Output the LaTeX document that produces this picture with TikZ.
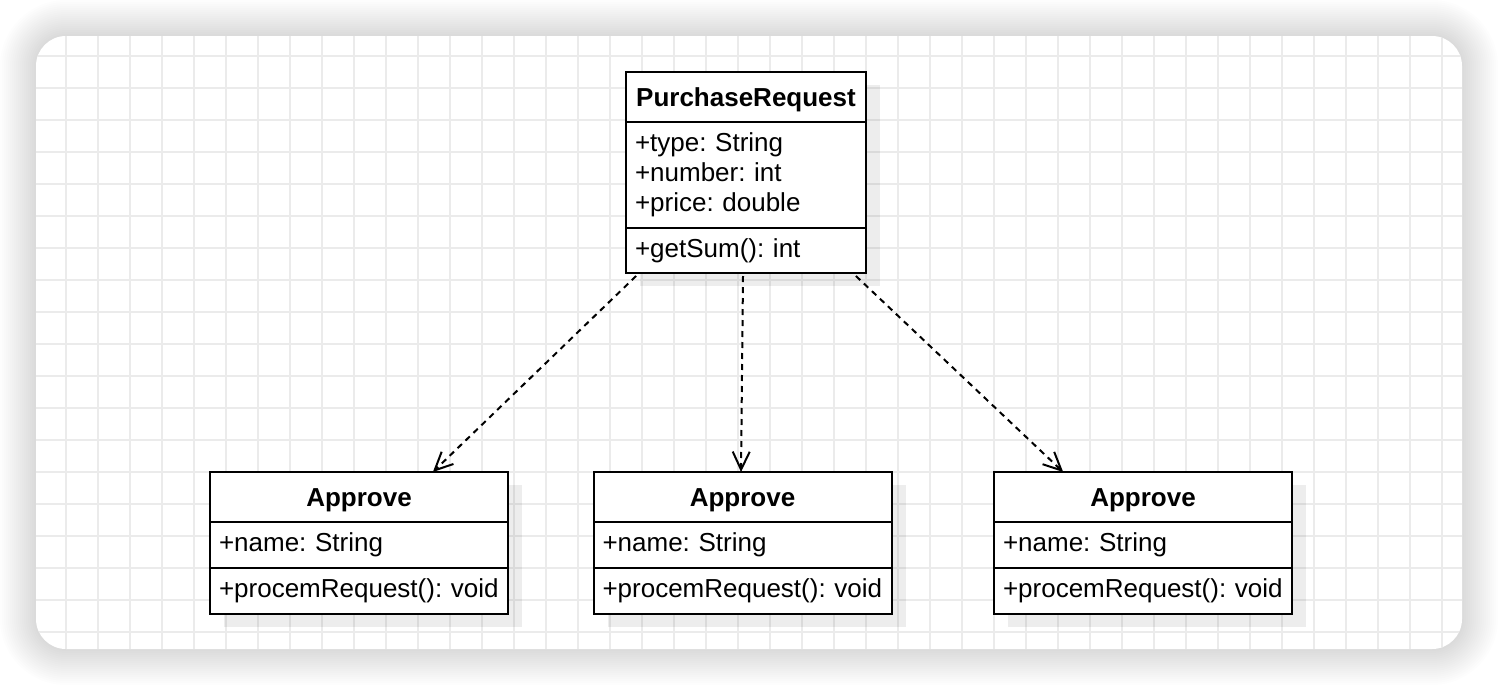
\documentclass[tikz,border=0pt]{standalone}
\usepackage{fontspec}
\setmainfont{Liberation Sans}
\usetikzlibrary{arrows.meta,positioning,calc,shadows}
\definecolor{gridgray}{HTML}{EBEBEB}
\frenchspacing

\begin{document}
\begin{tikzpicture}[
    x=0.5pt, y=-0.5pt,
    font=\fontsize{13}{15}\selectfont,
    boxshadow/.style={drop shadow={shadow xshift=7pt, shadow yshift=-6.5pt, fill=black, opacity=0.07}},
    classhead/.style={draw=black, line width=1pt, fill=white, inner sep=0pt, outer sep=0pt, minimum height=25pt, text height=12pt, text depth=3pt, font=\fontsize{13}{15}\selectfont\bfseries, boxshadow},
    classpart/.style={draw=black, line width=1pt, fill=white, inner xsep=4.5pt, inner ysep=0pt, outer sep=0pt, align=left, boxshadow},
    dep/.style={-{Straight Barb[length=9pt,width=8.5pt]}, line width=1pt, dash pattern=on 3pt off 2.5pt}
]
\useasboundingbox (0,0) rectangle (1498,686);
\fill[white] (0,0) rectangle (1498,686);

% card with soft shadow and grid
\foreach \d in {2,4,...,36} {
    \pgfmathsetmacro\rr{15+0.5*\d}
    \fill[black, opacity=0.0095, rounded corners=\rr pt] (36-\d,36-\d) rectangle (1462+\d,649+\d);
}
\fill[white, rounded corners=15pt] (36,36) rectangle (1462,649);
\begin{scope}
    \clip[rounded corners=15pt] (36,36) rectangle (1462,649);
    \foreach \gx in {66,98,...,1450}
        \draw[gridgray, line width=0.6pt] (\gx,36) -- (\gx,649);
    \foreach \gy in {56,88,...,640}
        \draw[gridgray, line width=0.6pt] (36,\gy) -- (1462,\gy);
\end{scope}

% PurchaseRequest
\node[classhead, minimum width=120pt] (pr) at (746,97) {PurchaseRequest};
\node[classpart, below=0pt of pr, text width=111pt, minimum height=53pt] (prattr) {+type: String\\+number: int\\+price: double};
\node[classpart, below=0pt of prattr, text width=111pt, minimum height=22.5pt] (prop) {+getSum(): int};

% Approve classes
\node[classhead, minimum width=149pt] (apA) at (359,497) {Approve};
\node[classpart, below=0pt of apA, text width=140pt, minimum height=23pt] (apAattr) {+name: String};
\node[classpart, below=0pt of apAattr, text width=140pt, minimum height=23pt] (apAop) {+procemRequest(): void};

\node[classhead, minimum width=149pt] (apB) at (742.5,497) {Approve};
\node[classpart, below=0pt of apB, text width=140pt, minimum height=23pt] (apBattr) {+name: String};
\node[classpart, below=0pt of apBattr, text width=140pt, minimum height=23pt] (apBop) {+procemRequest(): void};

\node[classhead, minimum width=149pt] (apC) at (1143,497) {Approve};
\node[classpart, below=0pt of apC, text width=140pt, minimum height=23pt] (apCattr) {+name: String};
\node[classpart, below=0pt of apCattr, text width=140pt, minimum height=23pt] (apCop) {+procemRequest(): void};

% dependencies
\draw[dep] ($(prop.south west)!0.042!(prop.south east)+(0,3)$) -- ($(apA.north west)!0.748!(apA.north east)$);
\draw[dep] ($(prop.south west)!0.4875!(prop.south east)+(0,3)$) -- ($(apB.north west)!0.495!(apB.north east)$);
\draw[dep] ($(prop.south west)!0.958!(prop.south east)+(0,3)$) -- ($(apC.north west)!0.232!(apC.north east)$);
\end{tikzpicture}
\end{document}
